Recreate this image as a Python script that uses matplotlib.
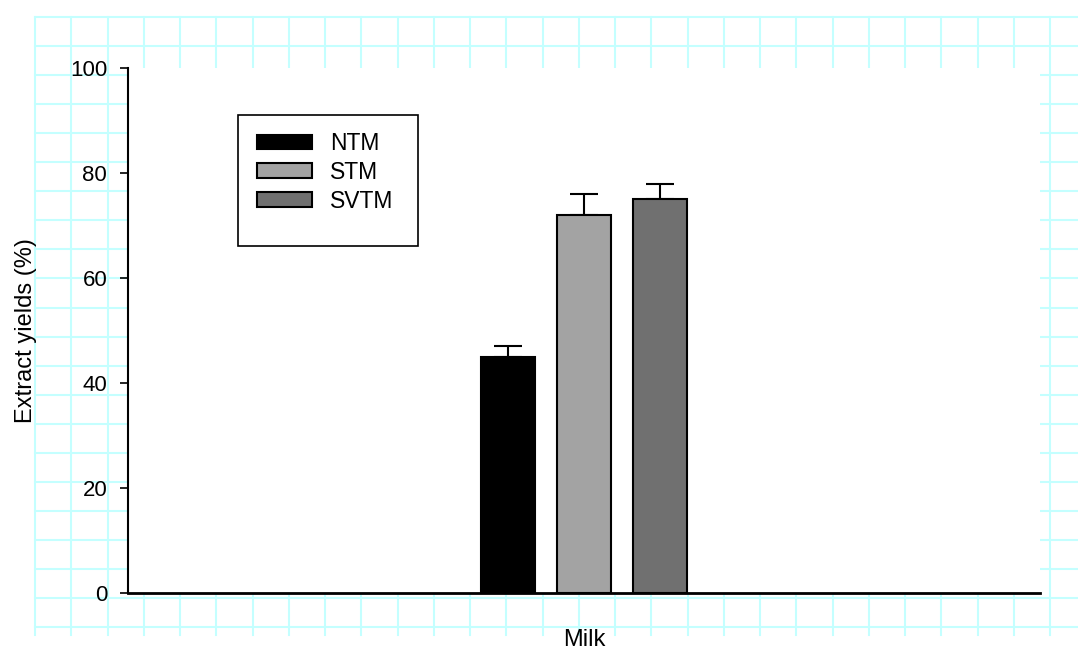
#Extract yields bar chart

import numpy as np
import matplotlib.pyplot as plt
from matplotlib.patches import Rectangle

plt.rcParams['font.family'] = ['Liberation Sans', 'DejaVu Sans']

#Data
groups = ["NTM", "STM", "SVTM"]
yields = [45, 72, 75]
errors = [2, 4, 3]
colors = ["#000000", "#a3a3a3", "#707070"]
category = "Milk"
yticks = [0, 20, 40, 60, 80, 100]

W, H = 1078, 653
fig = plt.figure(figsize=(W / 100, H / 100), dpi=100)

#Cyan page grid in the background (figure pixel coords)
bg = fig.add_axes([0, 0, 1, 1])
bg.set_xlim(0, W)
bg.set_ylim(H, 0)
bg.axis("off")
grid_c = "#c4ffff"
for gx in np.arange(35, 1051, 36.25):
    bg.plot([gx, gx], [17, 635], color=grid_c, lw=1.5)
for gy in np.arange(17, 628, 29.05):
    bg.plot([35, W], [gy, gy], color=grid_c, lw=1.5)

#Main axes
left, right, top, bottom = 128, 1040, 68, 593
ax = fig.add_axes([left / W, (H - bottom) / H, (right - left) / W, (bottom - top) / H])
ax.set_facecolor("white")

x = np.arange(len(groups)) - 1
for i in range(len(groups)):
    ax.bar(x[i], yields[i], width=0.72, color=colors[i], edgecolor="black",
           linewidth=1.5, label=groups[i], zorder=3)
    ax.errorbar(x[i], yields[i], yerr=[[0], [errors[i]]], fmt="none",
                ecolor="black", elinewidth=1.5, capsize=10, capthick=1.5, zorder=2)

ax.set_xlim(-6, 6)
ax.set_ylim(0, 100)
ax.set_yticks(yticks)
ax.set_xticks([])
ax.tick_params(axis="y", direction="out", length=6, width=1.2, pad=9, labelsize=16)
for s in ["top", "right"]:
    ax.spines[s].set_visible(False)
ax.spines["left"].set_linewidth(1.5)
ax.spines["bottom"].set_linewidth(2)

ax.set_ylabel("Extract yields (%)", fontsize=17, labelpad=24)
ax.set_xlabel(category, fontsize=17, labelpad=26)

#legend box (taller at the bottom, as in the original)
ax.add_patch(Rectangle((0.1206, 0.661), 0.1974, 0.2495, transform=ax.transAxes,
                       facecolor="white", edgecolor="black", lw=1.2, zorder=4))
leg = ax.legend(loc="upper left", bbox_to_anchor=(0.1414, 0.878), borderaxespad=0,
                frameon=False, fontsize=16.5, handlelength=2.4,
                handleheight=0.6, labelspacing=0.25, handletextpad=0.8,
                borderpad=0)
leg.set_zorder(5)

fig.savefig("out.png", dpi=100)
